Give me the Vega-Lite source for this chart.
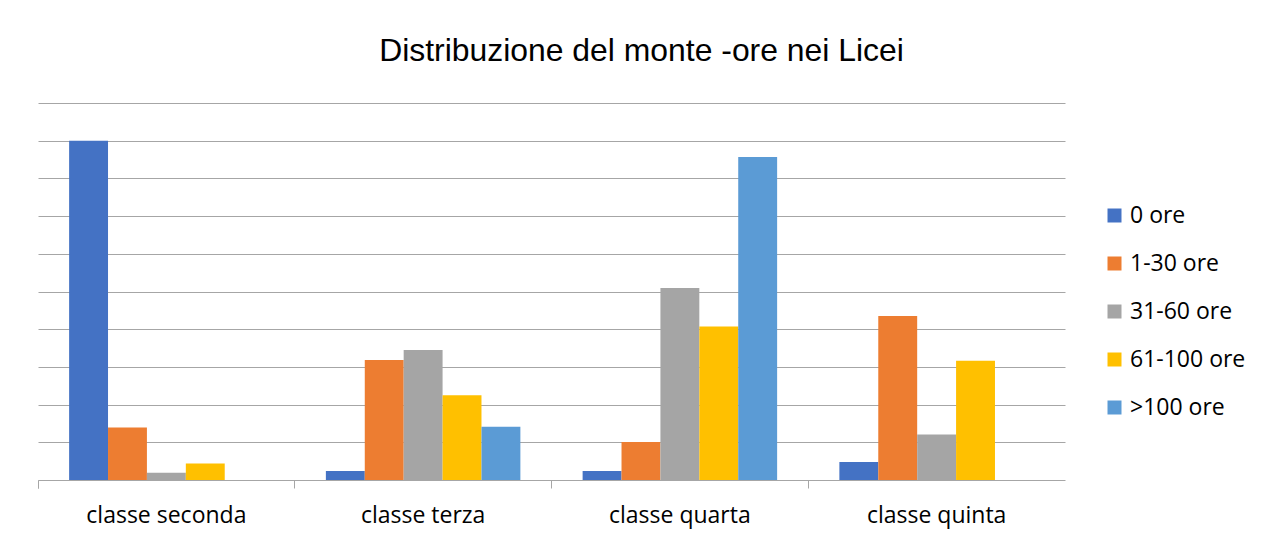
{
  "$schema": "https://vega.github.io/schema/vega-lite/v6.json",
  "autosize": "none",
  "width": 1027,
  "height": 377,
  "padding": {"left": 38, "top": 103, "right": 196, "bottom": 59},
  "background": "white",
  "title": {
    "text": "Distribuzione del monte -ore nei Licei",
    "font": "Liberation Sans",
    "fontSize": 31.9,
    "fontWeight": "normal",
    "color": "#000000",
    "anchor": "middle",
    "baseline": "alphabetic",
    "offset": 10,
    "dx": 90
  },
  "data": {
    "values": [
      {"classe": "classe seconda", "serie": "0 ore", "valore": 9.0},
      {"classe": "classe seconda", "serie": "1-30 ore", "valore": 1.39},
      {"classe": "classe seconda", "serie": "31-60 ore", "valore": 0.19},
      {"classe": "classe seconda", "serie": "61-100 ore", "valore": 0.44},
      {"classe": "classe terza", "serie": "0 ore", "valore": 0.24},
      {"classe": "classe terza", "serie": "1-30 ore", "valore": 3.18},
      {"classe": "classe terza", "serie": "31-60 ore", "valore": 3.45},
      {"classe": "classe terza", "serie": "61-100 ore", "valore": 2.25},
      {"classe": "classe terza", "serie": ">100 ore", "valore": 1.41},
      {"classe": "classe quarta", "serie": "0 ore", "valore": 0.24},
      {"classe": "classe quarta", "serie": "1-30 ore", "valore": 1.01},
      {"classe": "classe quarta", "serie": "31-60 ore", "valore": 5.09},
      {"classe": "classe quarta", "serie": "61-100 ore", "valore": 4.07},
      {"classe": "classe quarta", "serie": ">100 ore", "valore": 8.57},
      {"classe": "classe quinta", "serie": "0 ore", "valore": 0.48},
      {"classe": "classe quinta", "serie": "1-30 ore", "valore": 4.35},
      {"classe": "classe quinta", "serie": "31-60 ore", "valore": 1.21},
      {"classe": "classe quinta", "serie": "61-100 ore", "valore": 3.16}
    ]
  },
  "mark": {"type": "bar"},
  "encoding": {
    "x": {
      "field": "classe",
      "type": "nominal",
      "sort": ["classe seconda", "classe terza", "classe quarta", "classe quinta"],
      "scale": {"paddingInner": 0, "paddingOuter": 0},
      "axis": {
        "title": null,
        "labelAngle": 0,
        "labelFont": "Open Sans",
        "labelFontSize": 23,
        "labelColor": "#000000",
        "labelPadding": 16,
        "bandPosition": 0,
        "tickExtra": true,
        "ticks": true,
        "tickSize": 8,
        "tickColor": "#a6a6a6",
        "domainColor": "#a6a6a6",
        "grid": false
      }
    },
    "xOffset": {
      "field": "serie",
      "type": "nominal",
      "sort": ["0 ore", "1-30 ore", "31-60 ore", "61-100 ore", ">100 ore"],
      "scale": {
        "domain": ["0 ore", "1-30 ore", "31-60 ore", "61-100 ore", ">100 ore"],
        "paddingInner": 0,
        "paddingOuter": 0.8
      }
    },
    "y": {
      "field": "valore",
      "type": "quantitative",
      "scale": {"domain": [0, 10], "nice": false},
      "axis": {
        "title": null,
        "labels": false,
        "ticks": false,
        "domain": false,
        "grid": true,
        "gridColor": "#a6a6a6",
        "gridWidth": 1,
        "values": [1, 2, 3, 4, 5, 6, 7, 8, 9, 10]
      }
    },
    "color": {
      "field": "serie",
      "type": "nominal",
      "sort": ["0 ore", "1-30 ore", "31-60 ore", "61-100 ore", ">100 ore"],
      "scale": {
        "domain": ["0 ore", "1-30 ore", "31-60 ore", "61-100 ore", ">100 ore"],
        "range": ["#4472C4", "#ED7D31", "#A5A5A5", "#FFC000", "#5B9BD5"]
      },
      "legend": {
        "title": null,
        "orient": "none",
        "legendX": 1065,
        "legendY": 101,
        "symbolType": "square",
        "symbolSize": 196,
        "symbolStrokeWidth": 0,
        "labelFont": "Open Sans",
        "labelFontSize": 23,
        "labelColor": "#000000",
        "labelOffset": 4,
        "rowPadding": 24,
        "padding": 0
      }
    }
  },
  "config": {
    "view": {"stroke": null}
  }
}
